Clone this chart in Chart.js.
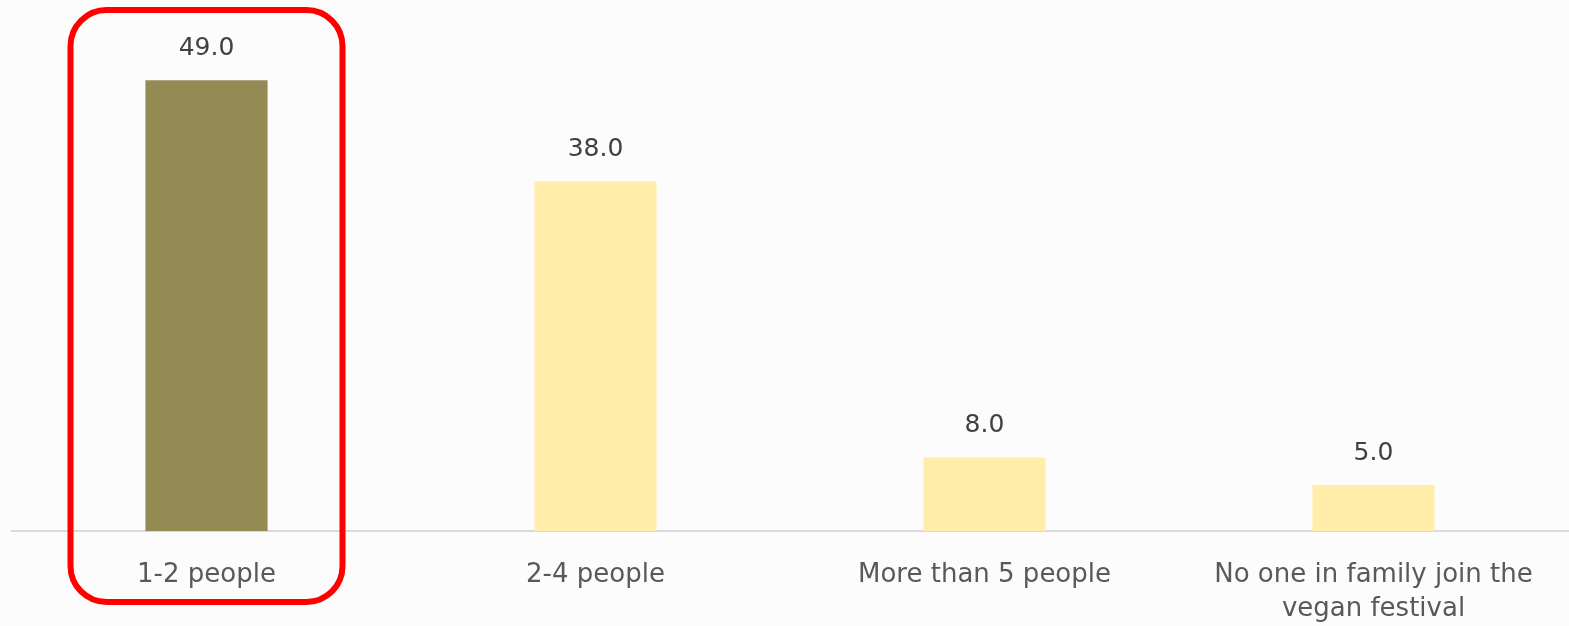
<!DOCTYPE html>
<html>
<head>
<meta charset="utf-8">
<script src="https://cdn.jsdelivr.net/npm/chart.js@4"></script>
<style>
  html, body { margin: 0; padding: 0; background: #fcfcfc; }
  #wrap { width: 1569px; height: 626px; }
</style>
</head>
<body>
<div id="wrap"><canvas id="familyChart"></canvas></div>
<script>
// data
const categories = ['1-2 people', '2-4 people', 'More than 5 people', ['No one in family join the', 'vegan festival']];
const shares = [49.0, 38.0, 8.0, 5.0];
const barColors = ['#948A54', '#FFEDA9', '#FFEDA9', '#FFEDA9'];
const highlightIndex = 0;

// value labels above each bar
const valueLabels = {
    id: 'valueLabels',
    afterDatasetsDraw(chart) {
        const ctx = chart.ctx;
        const meta = chart.getDatasetMeta(0);
        ctx.save();
        ctx.font = '25px "DejaVu Sans", sans-serif';
        ctx.fillStyle = '#404040';
        ctx.textAlign = 'center';
        ctx.textBaseline = 'middle';
        meta.data.forEach((bar, i) => {
            ctx.fillText(shares[i].toFixed(1), bar.x, bar.y - 32);
        });
        ctx.restore();
    }
};

// red rounded frame round the highlighted category
const highlightBox = {
    id: 'highlightBox',
    afterDraw(chart) {
        const ctx = chart.ctx;
        const x = chart.scales.x.getPixelForValue(highlightIndex);
        const w = 272, top = 10, h = 592, r = 36;
        const left = x - w / 2;
        ctx.save();
        ctx.strokeStyle = '#FF0000';
        ctx.lineWidth = 6;
        ctx.beginPath();
        ctx.roundRect(left, top, w, h, r);
        ctx.stroke();
        ctx.restore();
    }
};

const ctx = document.getElementById('familyChart').getContext('2d');
new Chart(ctx, {
    type: 'bar',
    data: {
        labels: categories,
        datasets: [{
            data: shares,
            backgroundColor: barColors,
            categoryPercentage: 1,
            barPercentage: 0.314
        }]
    },
    options: {
        responsive: true,
        maintainAspectRatio: false,
        animation: false,
        layout: { padding: { top: 25, left: 12, right: 1, bottom: 0 } },
        plugins: { legend: { display: false }, tooltip: { enabled: false } },
        scales: {
            x: {
                grid: { display: false, drawTicks: false },
                border: { color: '#D9D9D9', width: 2 },
                ticks: {
                    color: '#595959',
                    font: { family: '"DejaVu Sans", sans-serif', size: 26, lineHeight: 1.31 },
                    padding: 27,
                    maxRotation: 0,
                    autoSkip: false
                },
                afterFit(scale) { scale.height = 95; }
            },
            y: {
                display: false,
                min: 0,
                max: 55
            }
        }
    },
    plugins: [valueLabels, highlightBox]
});
</script>
</body>
</html>
